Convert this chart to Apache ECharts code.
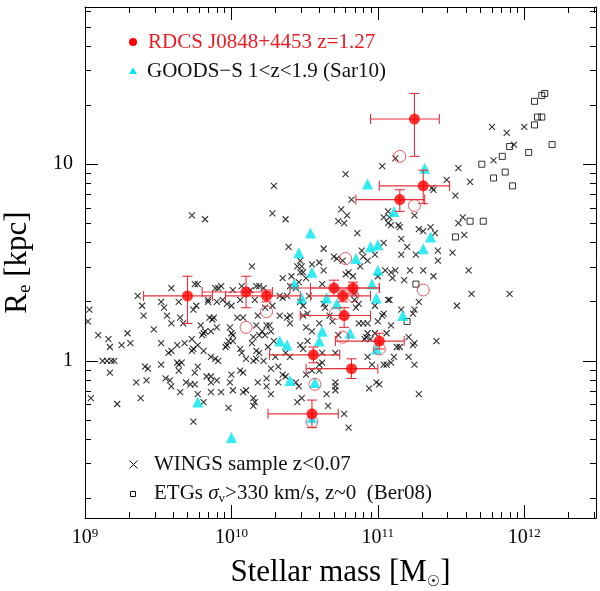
<!DOCTYPE html>
<html>
<head>
<meta charset="utf-8">
<script src="https://cdn.jsdelivr.net/npm/echarts@6/dist/echarts.min.js"></script>
<style>
html,body{margin:0;padding:0;background:#fff;}
#c{width:600px;height:591px;}
</style>
</head>
<body>
<div id="c"></div>
<script>
// ---- Data (log10 of stellar mass [Msun], log10 of Re [kpc]) ----
// WINGS sample z<0.07 (crosses)
const wingsPoints = [
[9.73,0.74],[9.82,0.72],[9.59,0.37],[9.75,0.39],[9.77,0.39],[9.36,0.33],[9.52,0.30],[9.64,0.30],[9.39,0.28],[9.54,0.27],
[9.76,0.28],[9.74,0.26],[9.56,0.23],[9.40,0.23],[9.65,0.22],[9.85,0.22],[9.03,0.26],[9.84,0.31],[9.89,0.37],[9.91,0.37],
[9.84,0.30],[9.90,0.30],[9.88,0.22],[9.02,0.20],[9.59,0.19],[9.67,0.19],[9.79,0.18],[9.87,0.21],[9.90,0.17],[9.47,0.16],
[9.81,0.14],[9.80,0.13],[9.82,0.15],[9.86,0.15],[9.09,0.13],[9.16,0.11],[9.29,0.14],[9.25,0.08],[9.31,0.09],[9.17,0.07],
[9.52,0.09],[9.63,0.08],[9.68,0.09],[9.73,0.11],[9.77,0.08],[9.74,0.06],[9.73,0.05],[9.81,0.05],[9.57,0.04],[9.59,0.05],
[9.86,0.02],[9.89,0.01],[9.91,0.00],[9.12,0.00],[9.15,0.00],[9.18,0.00],[9.20,0.00],[9.17,-0.06],[9.52,-0.02],[9.63,-0.01],
[9.66,-0.01],[9.64,-0.02],[9.64,-0.05],[9.77,-0.03],[9.41,-0.03],[9.43,-0.04],[9.75,-0.06],[9.55,-0.09],[9.58,-0.10],[9.83,-0.08],
[9.86,-0.08],[9.86,-0.11],[9.90,-0.10],[9.42,-0.10],[9.35,-0.11],[9.69,-0.11],[9.72,-0.12],[9.75,-0.12],[9.59,-0.13],[9.65,-0.16],
[9.77,-0.17],[9.86,-0.16],[9.93,-0.16],[9.04,-0.19],[9.38,-0.19],[9.81,-0.21],[9.22,-0.22],[9.74,-0.31],
[10.82,0.82],[10.75,0.77],[10.28,0.75],[10.37,0.72],[10.79,0.74],[10.73,0.71],[10.77,0.70],[10.39,0.58],[10.63,0.57],[10.70,0.53],
[10.72,0.52],[10.76,0.51],[10.47,0.51],[10.45,0.48],[10.48,0.48],[10.55,0.49],[10.60,0.50],[10.14,0.48],[10.63,0.46],[10.47,0.45],
[10.80,0.45],[10.78,0.44],[10.83,0.43],[10.35,0.42],[10.41,0.43],[10.49,0.45],[10.51,0.42],[10.46,0.40],[10.62,0.39],[10.17,0.38],
[10.19,0.38],[9.93,0.38],[10.01,0.36],[10.13,0.36],[10.22,0.37],[10.40,0.38],[10.44,0.37],[10.33,0.33],[10.35,0.32],[10.38,0.33],
[10.16,0.31],[9.94,0.31],[9.97,0.29],[10.00,0.28],[10.06,0.31],[10.23,0.27],[10.28,0.28],[10.49,0.28],[10.47,0.30],[10.53,0.33],
[10.63,0.29],[10.64,0.27],[10.40,0.23],[10.38,0.22],[10.33,0.23],[10.49,0.23],[10.52,0.24],[10.67,0.23],[10.04,0.22],[10.08,0.22],
[10.18,0.23],[10.84,0.31],[10.84,0.34],[10.29,0.89],[10.78,0.95],[10.07,0.38],
[9.99,0.17],[10.00,0.14],[10.01,0.13],[9.98,0.10],[9.97,0.08],[9.96,0.07],[10.01,0.10],[10.17,0.18],[10.24,0.18],[10.26,0.18],
[10.40,0.19],[10.21,0.15],[10.23,0.13],[10.19,0.13],[10.27,0.15],[10.15,0.12],[10.14,0.09],[10.29,0.10],[10.25,0.07],[10.06,0.06],
[10.07,0.04],[10.17,0.05],[10.19,0.04],[10.10,0.01],[10.15,0.00],[10.17,0.01],[10.22,0.00],[10.30,0.02],[10.37,0.04],[10.40,0.02],
[10.51,0.17],[10.55,0.15],[10.60,0.19],[10.52,0.10],[10.47,0.08],[10.49,0.06],[10.62,0.04],[10.71,0.04],[10.73,0.13],[10.69,0.20],
[10.62,-0.01],[10.60,-0.02],[10.06,-0.05],[10.08,-0.06],[10.00,-0.07],[9.99,-0.11],[10.27,-0.04],[10.32,-0.03],[10.35,-0.07],[10.37,-0.08],
[10.24,-0.09],[10.18,-0.11],[10.24,-0.13],[10.32,-0.11],[10.44,-0.11],[10.46,-0.13],[10.51,-0.07],[10.55,-0.05],[10.60,-0.05],[10.71,-0.11],
[10.71,-0.13],[10.71,-0.15],[10.65,-0.17],[10.01,-0.15],[10.08,-0.16],[10.10,-0.15],[10.15,-0.19],[10.16,-0.21],[10.15,-0.23],[10.27,-0.17],
[9.98,-0.24],[10.45,-0.21],[10.48,-0.19],[10.66,-0.23],[10.77,-0.27],[10.80,-0.34],
[11.38,0.87],[11.53,0.84],[11.07,0.76],[11.04,0.73],[11.08,0.73],[11.09,0.69],[11.14,0.69],[11.15,0.68],[11.07,0.70],[11.25,0.74],
[11.58,0.73],[11.55,0.70],[11.28,0.67],[11.31,0.66],[11.36,0.68],[11.39,0.65],[11.59,0.64],[10.86,0.65],[11.16,0.62],[11.20,0.58],
[11.04,0.60],[10.89,0.56],[10.90,0.53],[10.93,0.51],[10.98,0.54],[11.16,0.54],[11.26,0.54],[11.41,0.56],[11.41,0.51],[11.51,0.55],
[10.88,0.48],[11.05,0.46],[11.09,0.45],[11.12,0.46],[11.22,0.46],[11.31,0.46],[11.00,0.43],[11.10,0.42],[11.18,0.41],[11.38,0.43],
[11.62,0.46],[11.64,0.34],[11.08,0.31],[11.07,0.31],[11.28,0.30],[11.54,0.28],[10.98,0.28],[10.87,0.29],[10.85,0.27],[11.04,0.24],
[11.16,0.26],[11.25,0.26],[11.24,0.24],[11.03,0.23],
[10.87,0.19],[10.90,0.19],[10.93,0.19],[11.00,0.20],[11.09,0.18],[10.93,0.14],[10.92,0.12],[10.91,0.11],[10.95,0.11],[10.98,0.14],
[11.06,0.14],[11.21,0.12],[11.24,0.08],[11.25,0.09],[11.40,0.10],[11.13,0.07],[11.15,0.07],[10.93,0.02],[11.11,0.02],[11.21,0.02],
[10.96,-0.02],[11.04,-0.02],[11.06,-0.02],[11.09,-0.01],[11.25,-0.02],[10.99,-0.11],[11.01,-0.12],[10.94,-0.14],[11.28,-0.17],
[11.12,1.03],[11.03,0.99],[11.55,0.98],[11.47,0.92],[11.37,0.88],[11.63,0.91],[11.78,1.19],[11.88,1.16],[12.00,1.19],[11.93,1.10],
[11.79,1.02],[11.90,0.34]
];

// ETGs sigma_v > 330 km/s, z~0 (Ber08) (open squares)
const berPoints = [
[12.07,1.32],[12.12,1.35],[12.14,1.36],[12.09,1.24],[12.12,1.24],[12.07,1.20],[12.19,1.10],[11.90,1.09],[12.03,1.06],[11.85,1.04],
[11.71,1.00],[11.87,0.96],[11.79,0.93],[11.92,0.89],[11.63,0.71],[11.72,0.71],[11.53,0.63],[11.26,0.39],[11.20,0.20]
];

// GOODS-S 1<z<1.9 (Sar10) (cyan triangles)
const goodsPoints = [
[10.54,0.65],[10.46,0.55],[10.55,0.45],[10.85,0.52],[10.43,0.39],[10.48,0.32],[10.65,0.32],[10.72,0.29],[11.11,0.76],[11.36,0.63],
[10.95,0.58],[11.00,0.59],[11.31,0.57],[11.00,0.46],[10.96,0.39],[10.99,0.32],[11.17,0.23],[11.32,0.98],[10.93,0.90],[10.33,0.10],
[10.38,0.08],[10.62,0.15],[10.60,0.10],[10.81,0.14],[10.40,-0.10],[10.57,-0.11],[10.55,-0.29],[10.00,-0.39],[9.77,-0.21],[10.99,0.06]
];

// RDCS J0848+4453 z=1.27: [logM, logRe, logM_low, logM_high, logRe_low, logRe_high]
const rdcsPoints = [
[11.25,1.23,10.95,11.42,1.04,1.36],
[11.31,0.89,11.01,11.49,0.80,0.97],
[11.15,0.82,10.85,11.32,0.76,0.87],
[9.70,0.33,9.40,9.87,0.19,0.43],
[10.10,0.35,9.80,10.28,0.27,0.43],
[10.24,0.33,9.96,10.47,0.30,0.36],
[10.70,0.37,10.40,11.01,0.33,0.41],
[10.83,0.37,10.54,11.01,0.34,0.40],
[10.76,0.33,10.54,10.95,0.30,0.36],
[10.77,0.23,10.47,10.95,0.17,0.27],
[11.01,0.10,10.71,11.18,0.06,0.14],
[10.56,0.03,10.26,10.74,-0.01,0.07],
[10.82,-0.04,10.51,11.00,-0.09,0.01],
[10.55,-0.27,10.25,10.73,-0.34,-0.20]
];

// RDCS J0848 alternative measurements (open red circles)
const rdcsAltPoints = [
[11.15,1.04],[11.25,0.79],[10.78,0.52],[10.10,0.17],[10.24,0.25],[10.76,0.12],[11.01,0.06],[10.57,-0.12],[10.55,-0.31],
[11.31,0.36],[10.83,0.33],[10.71,0.24]
];

// Axis ticks (log10 units) and labels
const xTickValues = [9, 10, 11, 12];
const xTickExponents = ['9', '10', '11', '12'];
const yTickValues = [0, 1];
const yTickLabels = ['1', '10'];

const X_MIN = 9, X_MAX = 12.49, Y_MIN = -0.8, Y_MAX = 1.8;

function minorTicks(lo, hi) {
  const out = [];
  for (let n = Math.floor(lo) - 1; n <= Math.ceil(hi); n++) {
    for (let k = 2; k <= 9; k++) {
      const v = n + Math.log10(k);
      if (v > lo && v < hi) out.push(v);
    }
  }
  return out;
}
const xMinor = minorTicks(X_MIN, X_MAX);
const yMinor = minorTicks(Y_MIN, Y_MAX);

const FONT = "'Liberation Serif', 'DejaVu Serif', serif";
const RED = '#ff0000';
const RED_TXT = '#ec1c24';
const BAR = '#e8303a';
const CYAN = '#00e6f0';

function makeAxis(kind, pos, ticks, len, line, label) {
  const a = {
    type: 'value', position: pos, gridIndex: 0,
    min: kind === 'x' ? X_MIN : Y_MIN, max: kind === 'x' ? X_MAX : Y_MAX,
    axisLine: { show: line, onZero: false, lineStyle: { color: '#000', width: 1 } },
    axisTick: { show: true, inside: true, length: len, customValues: ticks, lineStyle: { color: '#000', width: 1 } },
    splitLine: { show: false },
    axisLabel: { show: false }
  };
  if (label) a.axisLabel = label;
  return a;
}

const xLabel = {
  show: true, customValues: xTickValues, margin: 9,
  formatter: v => '{b|10}{s|' + xTickExponents[xTickValues.indexOf(Math.round(v))] + '}',
  rich: {
    b: { fontFamily: FONT, fontSize: 20, color: '#000', lineHeight: 22 },
    s: { fontFamily: FONT, fontSize: 13, color: '#000', lineHeight: 14, verticalAlign: 'top' }
  }
};
const yLabel = {
  show: true, customValues: yTickValues, margin: 12,
  formatter: v => yTickLabels[yTickValues.indexOf(Math.round(v))],
  fontFamily: FONT, fontSize: 20, color: '#000'
};

const xAxes = [
  makeAxis('x', 'bottom', xTickValues, 13, true, xLabel),
  makeAxis('x', 'bottom', xMinor, 6, false, null),
  makeAxis('x', 'top', xTickValues, 13, true, null),
  makeAxis('x', 'top', xMinor, 6, false, null)
];
xAxes[0].name = '{t|Stellar mass [M}{s|\u2609}{t|]}';
xAxes[0].nameLocation = 'middle';
xAxes[0].nameGap = 38;
xAxes[0].nameTextStyle = {
  rich: {
    t: { fontFamily: FONT, fontSize: 31, color: '#000', lineHeight: 34 },
    s: { fontFamily: "'DejaVu Sans', sans-serif", fontSize: 15, color: '#000', lineHeight: 12, verticalAlign: 'bottom' }
  }
};
const yAxes = [
  makeAxis('y', 'left', yTickValues, 13, true, yLabel),
  makeAxis('y', 'left', yMinor, 6, false, null),
  makeAxis('y', 'right', yTickValues, 13, true, null),
  makeAxis('y', 'right', yMinor, 6, false, null)
];
yAxes[0].name = '{t|R}{s|e}{t| [kpc]}';
yAxes[0].nameLocation = 'middle';
yAxes[0].nameGap = 50;
yAxes[0].nameTextStyle = {
  rich: {
    t: { fontFamily: FONT, fontSize: 31, color: '#000', lineHeight: 34 },
    s: { fontFamily: FONT, fontSize: 19, color: '#000', lineHeight: 14, verticalAlign: 'bottom' }
  }
};

const crossPath = 'path://M0,0L10,10M10,0L0,10';

const option = {
  backgroundColor: '#fff',
  animation: false,
  grid: { left: 85, top: 7, width: 511, height: 511, containLabel: false, outerBoundsMode: 'none' },
  xAxis: xAxes,
  yAxis: yAxes,
  series: [
    {
      name: 'WINGS', type: 'scatter', xAxisIndex: 0, yAxisIndex: 0, z: 2,
      data: wingsPoints, symbol: crossPath, symbolSize: 6,
      itemStyle: { color: 'none', borderColor: '#000', borderWidth: 1.1 }
    },
    {
      name: 'Ber08', type: 'scatter', xAxisIndex: 0, yAxisIndex: 0, z: 3,
      data: berPoints, symbol: 'rect', symbolSize: 6,
      itemStyle: { color: 'rgba(255,255,255,0)', borderColor: '#000', borderWidth: 1 }
    },
    {
      name: 'GOODS', type: 'scatter', xAxisIndex: 0, yAxisIndex: 0, z: 4,
      data: goodsPoints, symbol: 'triangle', symbolSize: 11,
      itemStyle: { color: CYAN }
    },
    {
      name: 'RDCS err', type: 'custom', xAxisIndex: 0, yAxisIndex: 0, z: 5,
      data: rdcsPoints,
      encode: { x: [0, 2, 3], y: [1, 4, 5] },
      renderItem: function (params, api) {
        const x = api.value(0), y = api.value(1);
        const pl = api.coord([api.value(2), y]);
        const pr = api.coord([api.value(3), y]);
        const pb = api.coord([x, api.value(4)]);
        const pt = api.coord([x, api.value(5)]);
        const cap = 5;
        const st = { stroke: BAR, lineWidth: 1.1 };
        const L = (x1, y1, x2, y2) => ({ type: 'line', shape: { x1, y1, x2, y2 }, style: st });
        return {
          type: 'group',
          children: [
            L(pl[0], pl[1], pr[0], pr[1]),
            L(pl[0], pl[1] - cap, pl[0], pl[1] + cap),
            L(pr[0], pr[1] - cap, pr[0], pr[1] + cap),
            L(pb[0], pb[1], pt[0], pt[1]),
            L(pb[0] - cap, pb[1], pb[0] + cap, pb[1]),
            L(pt[0] - cap, pt[1], pt[0] + cap, pt[1])
          ]
        };
      }
    },
    {
      name: 'RDCS alt', type: 'scatter', xAxisIndex: 0, yAxisIndex: 0, z: 6,
      data: rdcsAltPoints, symbol: 'circle', symbolSize: 12,
      itemStyle: { color: 'rgba(255,255,255,0)', borderColor: BAR, borderWidth: 1 }
    },
    {
      name: 'RDCS', type: 'scatter', xAxisIndex: 0, yAxisIndex: 0, z: 7,
      data: rdcsPoints.map(p => [p[0], p[1]]), symbol: 'circle', symbolSize: 11,
      itemStyle: { color: RED }
    }
  ],
  graphic: [
    { type: 'circle', shape: { cx: 133, cy: 42, r: 4 }, style: { fill: RED } },
    { type: 'text', x: 148, y: 42, style: { text: 'RDCS J0848+4453 z=1.27', fill: RED_TXT, font: '21px ' + FONT, verticalAlign: 'middle' } },
    { type: 'polygon', shape: { points: [[133, 67.5], [137, 74], [129, 74]] }, style: { fill: CYAN } },
    { type: 'text', x: 147, y: 71, style: { text: 'GOODS\u2212S 1<z<1.9 (Sar10)', fill: '#111', font: '21px ' + FONT, verticalAlign: 'middle' } },
    { type: 'polyline', shape: { points: [[129.5, 460.5], [137.5, 468.5]] }, style: { stroke: '#111', lineWidth: 1 } },
    { type: 'polyline', shape: { points: [[137.5, 460.5], [129.5, 468.5]] }, style: { stroke: '#111', lineWidth: 1 } },
    { type: 'text', x: 154, y: 464, style: { text: 'WINGS sample z<0.07', fill: '#111', font: '21px ' + FONT, verticalAlign: 'middle' } },
    { type: 'rect', shape: { x: 130.5, y: 491.5, width: 5, height: 5 }, style: { fill: 'none', stroke: '#111', lineWidth: 1 } },
    { type: 'text', x: 154, y: 493, style: {
        text: '{a|ETGs }{g|\u03c3}{s|v}{a|>330 km/s, z~0  (Ber08)}', verticalAlign: 'middle',
        rich: {
          a: { fontFamily: FONT, fontSize: 21, fill: '#111', lineHeight: 24 },
          g: { fontFamily: FONT, fontSize: 21, fill: '#111', fontStyle: 'italic', lineHeight: 24 },
          s: { fontFamily: FONT, fontSize: 13, fill: '#111', lineHeight: 12, verticalAlign: 'bottom' }
        } } }
  ]
};

const chart = echarts.init(document.getElementById('c'), null, { renderer: 'canvas' });
chart.setOption(option);
</script>
</body>
</html>
